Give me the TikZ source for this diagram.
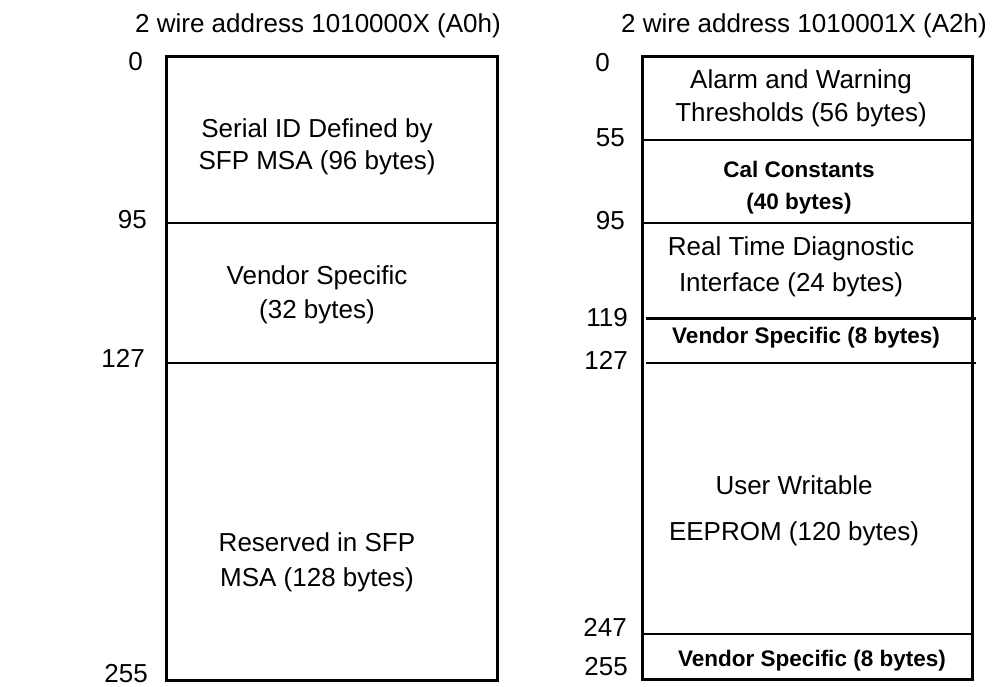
\documentclass[tikz,border=0pt]{standalone}
\usepackage{fontspec}
\setmainfont{Liberation Sans}
\begin{document}
\begin{tikzpicture}[x=1pt,y=-1pt,
  lbl/.style={font=\fontsize{26}{32}\selectfont, inner sep=0pt, align=center},
  blbl/.style={font=\fontsize{22.5}{32}\selectfont\bfseries, inner sep=0pt, align=center},
  num/.style={font=\fontsize{26}{30}\selectfont, inner sep=0pt, anchor=east},
  frame/.style={line width=3pt},
  div/.style={line width=2.6pt},
  divb/.style={line width=3pt}]
\useasboundingbox (0,0) rectangle (992,687);

% titles
\node[lbl] (tA0) at (318,26) {2 wire address 1010000X (A0h)};
\node[lbl] (tA2) at (804,26) {2 wire address 1010001X (A2h)};

% left map
\draw[frame] (166,57) rectangle (497,680);
\coordinate (l95a) at (166,223); \coordinate (l95b) at (497,223);
\coordinate (l127a) at (166,363); \coordinate (l127b) at (499,363);
\draw[div] (l95a) -- (l95b);
\draw[div] (l127a) -- (l127b);

\node[num] (ln0) at (143,62) {0};
\node[num] (ln95) at (147,220) {95};
\node[num] (ln127) at (145,358) {127};
\node[num] (ln255) at (148,674) {255};

\node[lbl] (serial) at (317,147) {Serial ID Defined by\\SFP MSA (96 bytes)};
\node[lbl,font=\fontsize{26}{34}\selectfont] (vend) at (317,295) {Vendor Specific\\(32 bytes)};
\node[lbl,font=\fontsize{26}{35}\selectfont] (resv) at (317,562) {Reserved in SFP\\MSA (128 bytes)};

% right map
\draw[frame] (642,57) rectangle (972,679);
\coordinate (r55a) at (642,140); \coordinate (r55b) at (972,140);
\coordinate (r95a) at (642,223); \coordinate (r95b) at (972,223);
\coordinate (r119a) at (646,318); \coordinate (r119b) at (976,318);
\coordinate (r127a) at (646,363); \coordinate (r127b) at (976,363);
\coordinate (r247a) at (642,634); \coordinate (r247b) at (972,634);
\draw[div] (r55a) -- (r55b);
\draw[div] (r95a) -- (r95b);
\draw[divb] (r119a) -- (r119b);
\draw[div] (r127a) -- (r127b);
\draw[div] (r247a) -- (r247b);

\node[num] (rn0) at (610,63) {0};
\node[num] (rn55) at (625,138) {55};
\node[num] (rn95) at (625,221) {95};
\node[num] (rn119) at (628,318) {119};
\node[num] (rn127) at (628,360) {127};
\node[num] (rn247) at (627,627) {247};
\node[num] (rn255) at (628,667) {255};

\node[lbl,font=\fontsize{26}{33}\selectfont] (alarm) at (801,98) {Alarm and Warning\\Thresholds (56 bytes)};
\node[blbl] (cal) at (799,188) {Cal Constants\\(40 bytes)};
\node[lbl,font=\fontsize{26}{36}\selectfont] (rtd) at (791,267) {Real Time Diagnostic\\Interface (24 bytes)};
\node[blbl] (vs1) at (806,338) {Vendor Specific (8 bytes)};
\node[lbl,font=\fontsize{26}{46}\selectfont] (user) at (794,511) {User Writable\\EEPROM (120 bytes)};
\node[blbl] (vs2) at (812,661) {Vendor Specific (8 bytes)};
\end{tikzpicture}
\end{document}
